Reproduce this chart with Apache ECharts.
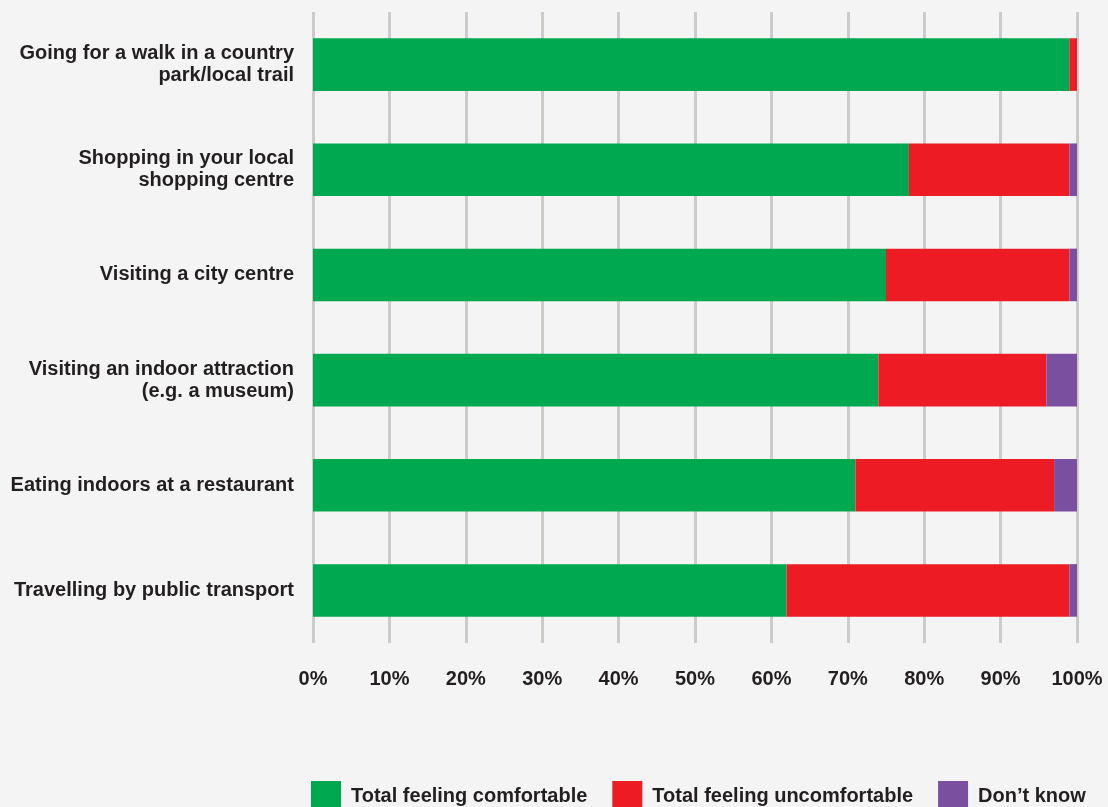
<!DOCTYPE html>
<html>
<head>
<meta charset="utf-8">
<style>
  html, body { margin: 0; padding: 0; background: #f4f4f4; }
  #chart { width: 1108px; height: 807px; }
</style>
<script src="https://cdn.jsdelivr.net/npm/echarts@6/dist/echarts.min.js"></script>
</head>
<body>
<div id="chart"></div>
<script>
// Activities, top to bottom
const categories = [
  'Going for a walk in a country\npark/local trail',
  'Shopping in your local\nshopping centre',
  'Visiting a city centre',
  'Visiting an indoor attraction\n(e.g. a museum)',
  'Eating indoors at a restaurant',
  'Travelling by public transport'
];

// Share of respondents (%)
const comfortable   = [99, 78, 75, 74, 71, 62];
const uncomfortable = [1, 21, 24, 22, 26, 37];
const dontKnow      = [0, 1, 1, 4, 3, 1];

const seriesNames = ['Total feeling comfortable', 'Total feeling uncomfortable', 'Don\u2019t know'];
const seriesColors = ['#00a84f', '#ed1c24', '#7b4fa0'];

const textColor = '#231f20';
const fontFamily = '"Liberation Sans", Arial, Helvetica, sans-serif';

const chart = echarts.init(document.getElementById('chart'));

const makeSeries = (name, data, color) => ({
  name: name,
  type: 'bar',
  stack: 'total',
  data: data,
  barWidth: '50%',
  itemStyle: { color: color },
  emphasis: { disabled: true }
});

chart.setOption({
  backgroundColor: '#f4f4f4',
  animation: false,
  textStyle: { fontFamily: fontFamily },
  grid: { left: 313, right: 31, top: 12, bottom: 164, containLabel: false },
  xAxis: {
    type: 'value',
    min: 0,
    max: 100,
    interval: 10,
    axisLine: { show: false },
    axisTick: { show: false },
    splitLine: { show: true, lineStyle: { color: '#cbcbc8', width: 3 } },
    axisLabel: {
      formatter: '{value}%',
      color: textColor,
      fontWeight: 'bold',
      fontSize: 20,
      margin: 26
    }
  },
  yAxis: {
    type: 'category',
    data: categories,
    inverse: true,
    axisLine: { show: false },
    axisTick: { show: false },
    axisLabel: {
      color: textColor,
      fontWeight: 'bold',
      fontSize: 20,
      lineHeight: 22,
      align: 'right',
      margin: 19
    }
  },
  legend: {
    data: seriesNames,
    top: 781,
    left: 311,
    padding: 0,
    icon: 'rect',
    itemWidth: 30,
    itemHeight: 30,
    itemGap: 25,
    selectedMode: false,
    textStyle: {
      color: textColor,
      fontWeight: 'bold',
      fontSize: 20,
      padding: [0, 0, 0, 5]
    }
  },
  series: [
    makeSeries(seriesNames[0], comfortable, seriesColors[0]),
    makeSeries(seriesNames[1], uncomfortable, seriesColors[1]),
    makeSeries(seriesNames[2], dontKnow, seriesColors[2])
  ]
});
</script>
</body>
</html>
